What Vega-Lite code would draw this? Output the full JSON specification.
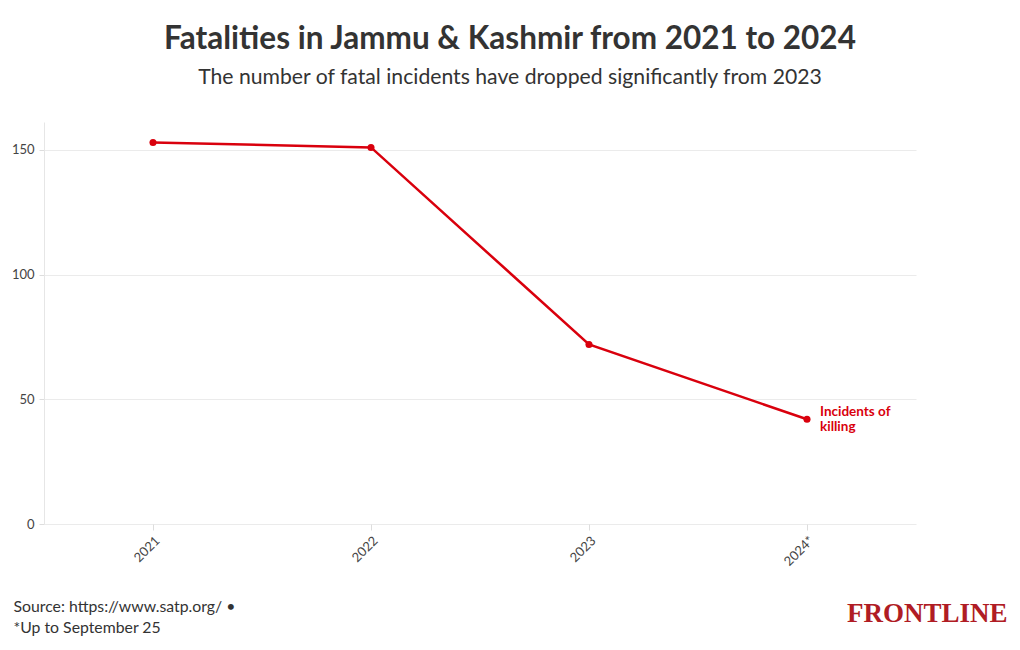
{
  "$schema": "https://vega.github.io/schema/vega-lite/v6.json",
  "width": 872,
  "height": 402,
  "autosize": {"type": "none"},
  "padding": {"left": 44, "top": 122, "right": 104, "bottom": 126},
  "background": "white",
  "title": {
    "text": "Fatalities in Jammu & Kashmir from 2021 to 2024",
    "subtitle": "The number of fatal incidents have dropped significantly from 2023",
    "anchor": "middle",
    "dx": 30,
    "offset": 34,
    "font": "Lato",
    "fontSize": 31.5,
    "fontWeight": "bold",
    "color": "#333333",
    "subtitleFont": "Lato",
    "subtitleFontSize": 21.2,
    "subtitleColor": "#333333",
    "subtitlePadding": 11
  },
  "data": {
    "values": [
      {"year": "2021", "fatalities": 153, "series": "Incidents of killing", "label": "Incidents of\nkilling"},
      {"year": "2022", "fatalities": 151, "series": "Incidents of killing", "label": "Incidents of\nkilling"},
      {"year": "2023", "fatalities": 72, "series": "Incidents of killing", "label": "Incidents of\nkilling"},
      {"year": "2024*", "fatalities": 42, "series": "Incidents of killing", "label": "Incidents of\nkilling"}
    ]
  },
  "config": {
    "view": {"stroke": null},
    "font": "Lato"
  },
  "encoding": {
    "x": {
      "field": "year",
      "type": "ordinal",
      "scale": {"type": "point", "padding": 0.5},
      "axis": {
        "labelAngle": -45,
        "labelFont": "Lato",
        "labelFontSize": 13,
        "labelColor": "#444444",
        "domain": false,
        "grid": false,
        "tickColor": "#dddddd",
        "tickSize": 6,
        "labelPadding": 4,
        "title": "FRONTLINE",
        "titleFont": "Liberation Serif",
        "titleFontSize": 27,
        "titleFontWeight": "bold",
        "titleColor": "#b01c24",
        "titleAlign": "right",
        "titleAnchor": "end",
        "titleBaseline": "alphabetic",
        "titleX": 963,
        "titleY": 97
      }
    },
    "y": {
      "field": "fatalities",
      "type": "quantitative",
      "scale": {"domain": [0, 161.2], "nice": false},
      "axis": {
        "values": [0, 50, 100, 150],
        "labelFont": "Lato",
        "labelFontSize": 13,
        "labelColor": "#444444",
        "domain": true,
        "domainColor": "#e6e6e6",
        "gridColor": "#ebebeb",
        "tickColor": "#dddddd",
        "tickSize": 5,
        "labelPadding": 5,
        "title": ["Source: https://www.satp.org/ •", "*Up to September 25"],
        "titleFont": "Lato",
        "titleFontSize": 15.8,
        "titleFontWeight": "normal",
        "titleColor": "#333333",
        "titleAngle": 0,
        "titleAlign": "left",
        "titleAnchor": "start",
        "titleBaseline": "alphabetic",
        "titleX": -31,
        "titleY": 489,
        "titleLineHeight": 21
      }
    }
  },
  "layer": [
    {
      "mark": {"type": "line", "color": "#d9000d", "strokeWidth": 2.5}
    },
    {
      "mark": {"type": "point", "filled": true, "color": "#d9000d", "size": 50, "opacity": 1}
    },
    {
      "transform": [{"filter": "datum.year == '2024*'"}],
      "mark": {
        "type": "text",
        "align": "left",
        "baseline": "middle",
        "dx": 13,
        "dy": -7.5,
        "font": "Lato",
        "fontSize": 13.5,
        "fontWeight": "bold",
        "color": "#d9000d",
        "lineBreak": "\n",
        "lineHeight": 15
      },
      "encoding": {
        "text": {"field": "label"}
      }
    }
  ]
}
